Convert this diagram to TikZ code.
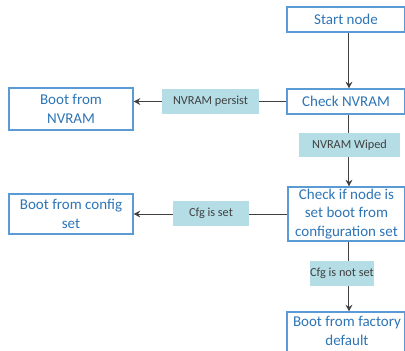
\documentclass[tikz,border=0pt]{standalone}
\usepackage{fontspec}
\setmainfont{Carlito}
\usetikzlibrary{arrows.meta}
\definecolor{boxblue}{RGB}{46,117,182}
\definecolor{edgeblue}{RGB}{91,155,213}
\definecolor{lblfill}{RGB}{180,221,230}
\definecolor{lineg}{RGB}{64,64,64}
\tikzset{
  stepbox/.style={draw=edgeblue, line width=0.8pt, fill=white, text=boxblue, align=center,
    font=\fontsize{11.25}{13.8}\selectfont, inner sep=0pt},
  lbl/.style={fill=lblfill, text=lineg, font=\fontsize{9.2}{11}\selectfont, inner sep=0pt},
  conn/.style={draw=lineg, line width=0.75pt, -{Stealth[length=5pt,width=5pt]}}
}
\begin{document}
\begin{tikzpicture}[x=0.75pt,y=-0.75pt]
\useasboundingbox (0,0) rectangle (405,351);
\clip (0,0) rectangle (405,351);
\coordinate (ax) at (349,0);
% right column
\node[stepbox, minimum width=118*0.75pt, minimum height=25*0.75pt] (start) at (346,19.5) {Start node};
\node[stepbox, minimum width=118*0.75pt, minimum height=25*0.75pt] (check) at (346,101.5) {Check NVRAM};
\node[stepbox, minimum width=117*0.75pt, minimum height=54*0.75pt] (checkcfg) at (346.5,214) {Check if node is\\set boot from\\configuration set};
\node[stepbox, minimum width=118*0.75pt, minimum height=48*0.75pt, text depth=0pt] (factory) at (346,336) {};
\node[text=boxblue, align=center, font=\fontsize{11.25}{13.8}\selectfont, inner sep=0pt] (factorytxt) at (347,331) {Boot from factory\\default};
% left column
\node[stepbox, minimum width=124*0.75pt, minimum height=42*0.75pt] (bootnv) at (71,109) {Boot from\\NVRAM};
\node[stepbox, minimum width=124*0.75pt, minimum height=40*0.75pt] (bootcfg) at (71,214) {Boot from config\\set};
% connectors
\draw[conn] (ax |- start.south) -- (ax |- check.north);
\draw[conn] (ax |- check.south) -- (ax |- checkcfg.north);
\draw[conn] (ax |- checkcfg.south) -- (ax |- factory.north);
\draw[conn] (check.west) -- (check.west -| bootnv.east);
\draw[conn] (checkcfg.west |- bootcfg.east) -- (bootcfg.east);
% labels
\node[lbl, minimum width=97*0.75pt, minimum height=25*0.75pt] (persist) at (210.5,101.5) {NVRAM persist};
\node[lbl, minimum width=101*0.75pt, minimum height=24*0.75pt] (wiped) at (349.5,145) {NVRAM Wiped};
\node[lbl, minimum width=76*0.75pt, minimum height=25*0.75pt] (cfgset) at (211,213.5) {Cfg is set};
\node[lbl, minimum width=62*0.75pt, minimum height=25*0.75pt] (cfgnot) at (342,273.5) {Cfg is not set};
\end{tikzpicture}
\end{document}
